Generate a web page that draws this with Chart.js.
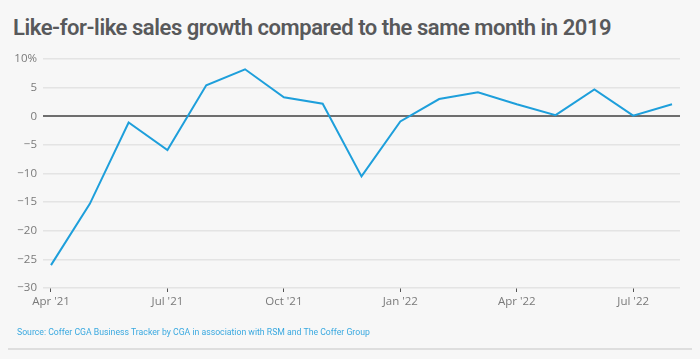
<!DOCTYPE html>
<html><head><meta charset="utf-8">
<script src="https://cdn.jsdelivr.net/npm/chart.js@4"></script>
<style>
html,body{margin:0;padding:0;background:#f7f7f7;}
#wrap{position:relative;width:700px;height:359px;background:#f7f7f7;overflow:hidden;}
#title{position:absolute;left:13px;top:15px;font-family:"Roboto",sans-serif;font-weight:600;font-size:22px;color:#58595b;letter-spacing:-0.45px;white-space:nowrap;}
#src{position:absolute;left:17px;top:327px;font-family:"Roboto",sans-serif;font-size:8.7px;color:#3aa9e0;white-space:nowrap;}
#rule{position:absolute;left:8px;top:348px;width:684px;height:2px;background:#dedede;}
#cv{position:absolute;left:0;top:0;}
</style></head>
<body><div id="wrap">
<div id="title">Like-for-like sales growth compared to the same month in 2019</div>
<canvas id="cv" width="700" height="359"></canvas>
<div id="src">Source: Coffer CGA Business Tracker by CGA in association with RSM and The Coffer Group</div>
<div id="rule"></div>
</div>
<script>
const months = ["Apr '21","May '21","Jun '21","Jul '21","Aug '21","Sep '21","Oct '21","Nov '21","Dec '21","Jan '22","Feb '22","Mar '22","Apr '22","May '22","Jun '22","Jul '22","Aug '22"];
const growth = [-26.0,-15.3,-1.1,-5.9,5.4,8.2,3.3,2.2,-10.5,-0.9,3.0,4.2,2.1,0.2,4.7,0.1,2.1];
const labelEvery = 3;
const yTicks = [10,5,0,-5,-10,-15,-20,-25,-30];

const points = growth.map((v,i)=>({x:i,y:v}));
new Chart(document.getElementById('cv'),{
  type:'line',
  data:{datasets:[{data:points,borderColor:'#1e9fdb',borderWidth:2,pointRadius:0,tension:0,fill:false}]},
  options:{
    responsive:false,animation:false,
    layout:{padding:{top:59,right:20,bottom:0,left:0}},
    plugins:{legend:{display:false},tooltip:{enabled:false}},
    scales:{
      x:{type:'linear',min:-0.206,max:months.length-1+0.206,
        afterBuildTicks:s=>{s.ticks=months.map((m,i)=>i).filter(i=>i%labelEvery===0).map(v=>({value:v}));},
        afterFit:s=>{s.height=71;},
        border:{display:false},
        grid:{drawOnChartArea:false,drawTicks:true,tickLength:4,color:'#555',lineWidth:1},
        ticks:{callback:v=>months[v],color:'#7a7a7a',font:{family:'Open Sans',size:11.5},padding:3,maxRotation:0,autoSkip:false}
      },
      y:{min:-30,max:10,
        afterBuildTicks:s=>{s.ticks=yTicks.map(v=>({value:v}));},
        afterFit:s=>{s.width=43;},
        border:{display:false},
        grid:{drawTicks:false,color:c=>c.tick&&c.tick.value===0?'#6e6e6e':'#e4e4e4',lineWidth:c=>c.tick&&c.tick.value===0?2:1.5},
        ticks:{callback:v=>v===10?'10%':(v<0?'\u2212'+Math.abs(v):String(v)),color:'#7a7a7a',font:{family:'Open Sans',size:11.5},padding:6}
      }
    }
  }
});
</script>
</body></html>
